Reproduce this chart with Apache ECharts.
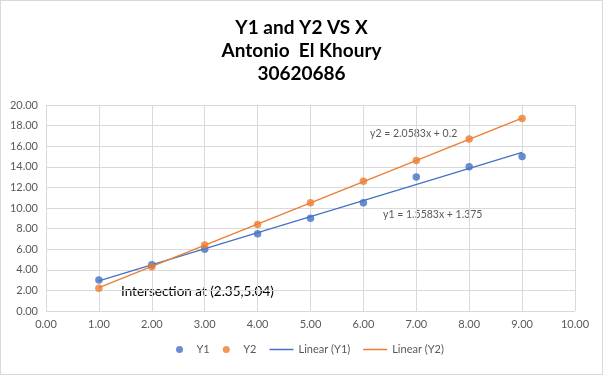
<!DOCTYPE html>
<html><head><meta charset="utf-8">
<script src="https://cdn.jsdelivr.net/npm/echarts@6/dist/echarts.min.js"></script>
<style>html,body{margin:0;padding:0;background:#fff}#c{width:603px;height:375px;box-sizing:border-box;border:1px solid #d9d9d9}</style>
</head><body><div id="c"></div>
<script>
const xValues = [1, 2, 3, 4, 5, 6, 7, 8, 9];
const y1Values = [3.0, 4.5, 6.0, 7.5, 9.0, 10.5, 13.0, 14.0, 15.0];
const y2Values = [2.2, 4.3, 6.4, 8.4, 10.5, 12.6, 14.6, 16.7, 18.7];
const trendY1 = [[1, 2.93], [9, 15.40]];
const trendY2 = [[1, 2.26], [9, 18.72]];
const titleLines = ['Y1 and Y2 VS X', 'Antonio  El Khoury', '30620686'];
const eqY1 = 'y1 = 1.5583x + 1.375';
const eqY2 = 'y2 = 2.0583x + 0.2';
const intersectionText = 'Intersection at (2.35,5.04)';

const BLUE = '#4472C4', ORANGE = '#ED7D31';
const FONT = 'Lato, "Open Sans", sans-serif';
const chart = echarts.init(document.getElementById('c'));
chart.setOption({
  animation: false,
  textStyle: {fontFamily: FONT},
  title: {
    text: titleLines.join('\n'), left: 'center', top: 10,
    textStyle: {fontFamily: FONT, fontSize: 19, fontWeight: 'bold', color: '#000', lineHeight: 23}
  },
  grid: {left: 45, right: 27, top: 104, bottom: 63},
  xAxis: {
    type: 'value', min: 0, max: 10, interval: 1,
    axisLine: {show: false}, axisTick: {show: false},
    splitLine: {lineStyle: {color: '#d9d9d9'}},
    axisLabel: {color: '#595959', fontSize: 11, formatter: v => v.toFixed(2), margin: 8}
  },
  yAxis: {
    type: 'value', min: 0, max: 20, interval: 2,
    axisLine: {show: false}, axisTick: {show: false},
    splitLine: {lineStyle: {color: '#d9d9d9'}},
    axisLabel: {color: '#595959', fontSize: 11, formatter: v => v.toFixed(2), margin: 8}
  },
  legend: {
    bottom: 14, left: 170, itemGap: 13,
    textStyle: {color: '#595959', fontSize: 11},
    data: [
      {name: 'Y1', icon: 'circle', itemStyle: {color: BLUE}},
      {name: 'Y2', icon: 'circle', itemStyle: {color: ORANGE}},
      {name: 'Linear (Y1)', icon: 'path://M0,0 L24,0 L24,1.5 L0,1.5 Z', itemStyle: {color: BLUE}},
      {name: 'Linear (Y2)', icon: 'path://M0,0 L24,0 L24,1.5 L0,1.5 Z', itemStyle: {color: ORANGE}}
    ],
    itemWidth: 24, itemHeight: 7
  },
  series: [
    {name: 'Linear (Y1)', type: 'line', data: trendY1, symbol: 'none', lineStyle: {color: BLUE, width: 1.3}, itemStyle: {color: BLUE}, z: 1},
    {name: 'Linear (Y2)', type: 'line', data: trendY2, symbol: 'none', lineStyle: {color: ORANGE, width: 1.3}, itemStyle: {color: ORANGE}, z: 1},
    {name: 'Y1', type: 'scatter', symbolSize: 7.5, itemStyle: {color: BLUE}, z: 3,
     data: xValues.map((x, i) => [x, y1Values[i]])},
    {name: 'Y2', type: 'scatter', symbolSize: 7.5, itemStyle: {color: ORANGE}, z: 3,
     data: xValues.map((x, i) => [x, y2Values[i]])}
  ],
  graphic: [
    {type: 'text', left: 369, top: 127, style: {text: eqY2, fill: '#595959', font: '10.5px ' + FONT}},
    {type: 'text', left: 382, top: 208, style: {text: eqY1, fill: '#595959', font: '10.5px ' + FONT}},
    {type: 'text', left: 120, top: 284, style: {text: intersectionText, fill: '#000', font: '13.5px ' + FONT}}
  ]
});
</script></body></html>
